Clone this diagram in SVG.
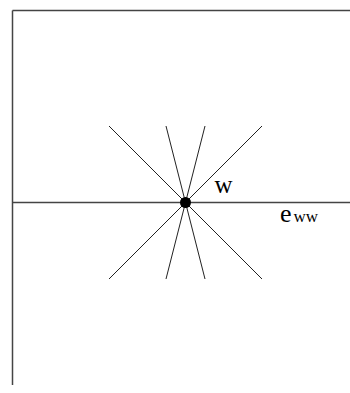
<svg xmlns="http://www.w3.org/2000/svg" width="350" height="393" viewBox="0 0 350 393">
<style>
.frame{stroke:#444;stroke-width:1.5;fill:none}
.ray{stroke:#222;stroke-width:1;fill:none}
.lbl{font-family:"Liberation Serif","Times New Roman",serif;fill:#000}
</style>
<rect width="350" height="393" fill="#fff"/>
<g id="connectors">
<line class="frame" x1="12.5" y1="10.5" x2="350" y2="10.5"/>
<line class="frame" x1="12.5" y1="10.5" x2="12.5" y2="385"/>
<line class="frame" x1="12.5" y1="202.5" x2="350" y2="202.5"/>
<line class="ray" x1="109" y1="126" x2="262" y2="279"/>
<line class="ray" x1="262" y1="126" x2="109" y2="279"/>
<line class="ray" x1="166" y1="126" x2="205" y2="279"/>
<line class="ray" x1="205" y1="126" x2="166" y2="279"/>
</g>
<g id="node-w">
<circle cx="185.5" cy="202.5" r="5.5" fill="#000"/>
<text class="lbl" x="214.5" y="193" font-size="25">w</text>
</g>
<g id="label-eww">
<text class="lbl" x="280" y="221.5" font-size="26">e</text>
<text class="lbl" x="293.5" y="221.5" font-size="17">ww</text>
</g>
</svg>
